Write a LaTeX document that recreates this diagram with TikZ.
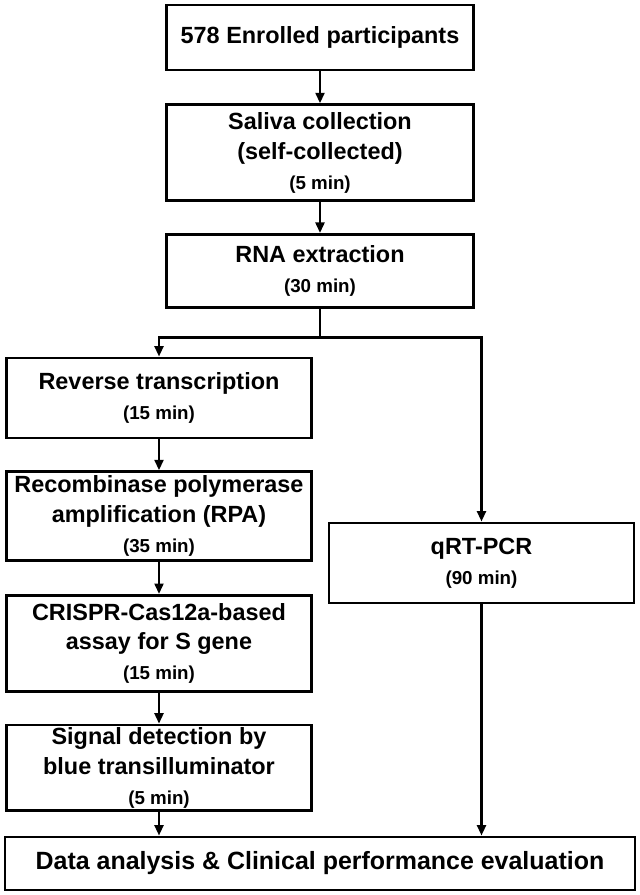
\documentclass[tikz,border=0pt]{standalone}
\usepackage{fontspec}
\setmainfont{Liberation Sans}
\usepackage{tikz}
\usetikzlibrary{shapes,arrows.meta,positioning,calc}

\newcommand{\mins}[1]{{\fontsize{16}{19}\selectfont (#1 min)}}

\begin{document}
\begin{tikzpicture}[
    stepbox/.style={rectangle, draw=black, line width=2.3pt, minimum width=9.2cm, align=center, inner sep=2pt, font=\fontsize{20}{25.5}\selectfont\bfseries},
    sidebox/.style={stepbox, minimum width=9.15cm},
    flow/.style={line width=2.3pt, -{Triangle[length=9pt,width=7.5pt]}},
    node distance=0.93cm
]
    \useasboundingbox (0,0) rectangle (19.2,-26.85);

    % main column
    \node[stepbox, minimum height=1.95cm] (enroll) at (9.6,-1.125) {578 Enrolled participants};
    \node[stepbox, minimum height=2.88cm, below=0.96cm of enroll] (saliva) {Saliva collection\\(self-collected)\\\mins{5}};
    \node[stepbox, minimum height=2.19cm, below=of saliva] (rna) {RNA extraction\\\mins{30}};

    % CRISPR branch
    \node[sidebox, minimum height=2.4cm] (rt) at (4.77,-11.94) {Reverse transcription\\\mins{15}};
    \node[sidebox, minimum height=2.67cm, below=of rt] (rpa) {Recombinase polymerase\\amplification (RPA)\\\mins{35}};
    \node[sidebox, minimum height=2.88cm, below=0.96cm of rpa] (crispr) {CRISPR-Cas12a-based\\assay for S gene\\\mins{15}};
    \node[sidebox, minimum height=2.55cm, below=of crispr] (signal) {Signal detection by\\blue transilluminator\\\mins{5}};

    % reference test
    \node[sidebox, minimum height=2.4cm] (qrt) at (14.445,-16.89) {qRT-PCR\\\mins{90}};

    \node[stepbox, minimum width=18.9cm, minimum height=1.59cm, font=\fontsize{21.3}{25.5}\selectfont\bfseries] (data) at (9.6,-25.905) {Data analysis \& Clinical performance evaluation};

    % arrows
    \draw[flow] (enroll) -- (saliva);
    \draw[flow] (saliva) -- (rna);
    \draw[line width=2.3pt] (rna.south) -- ++(0,-0.87) coordinate (split);
    \draw[flow] (split) -| (rt.north);
    \draw[flow] (split) -| (qrt.north);
    \draw[flow] (rt) -- (rpa);
    \draw[flow] (rpa) -- (crispr);
    \draw[flow] (crispr) -- (signal);
    \draw[flow] (signal.south) -- (signal.south |- data.north);
    \draw[flow] (qrt.south) -- (qrt.south |- data.north);
\end{tikzpicture}
\end{document}
